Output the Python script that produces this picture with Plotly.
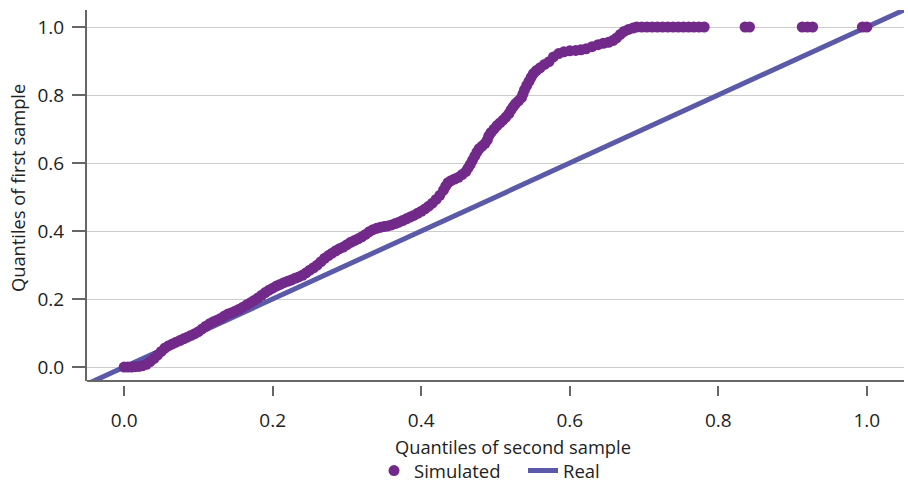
import plotly.graph_objects as go

# Simulated QQ points (quantiles of second sample vs first sample)
sim_x = [0.000, 0.005, 0.010, 0.015, 0.020, 0.025, 0.030, 0.035, 0.040, 0.045,
         0.050, 0.055, 0.060, 0.065, 0.070, 0.075, 0.080, 0.085, 0.090, 0.095,
         0.100, 0.105, 0.110, 0.115, 0.120, 0.125, 0.130, 0.135, 0.140, 0.145,
         0.150, 0.155, 0.160, 0.165, 0.170, 0.175, 0.180, 0.185, 0.190, 0.195,
         0.200, 0.205, 0.210, 0.215, 0.220, 0.225, 0.230, 0.235, 0.240, 0.245,
         0.250, 0.255, 0.260, 0.265, 0.270, 0.275, 0.280, 0.285, 0.290, 0.295,
         0.300, 0.305, 0.310, 0.315, 0.320, 0.325, 0.330, 0.335, 0.340, 0.345,
         0.350, 0.355, 0.360, 0.365, 0.370, 0.375, 0.380, 0.385, 0.390, 0.395,
         0.400, 0.405, 0.410, 0.415, 0.420, 0.425, 0.430, 0.433, 0.436, 0.440,
         0.445, 0.450, 0.455, 0.460, 0.463, 0.466, 0.469, 0.472, 0.475, 0.478,
         0.482, 0.486, 0.489, 0.491, 0.494, 0.498, 0.502, 0.506, 0.510, 0.514,
         0.518, 0.521, 0.524, 0.527, 0.531, 0.535, 0.537, 0.539, 0.542, 0.545,
         0.548, 0.551, 0.555, 0.560, 0.566, 0.572, 0.578, 0.585, 0.592, 0.600,
         0.608, 0.615, 0.622, 0.630, 0.638, 0.645, 0.652, 0.658, 0.663, 0.668,
         0.673, 0.679, 0.685, 0.690, 0.697, 0.704, 0.711, 0.718, 0.725, 0.732,
         0.739, 0.746, 0.753, 0.760, 0.767, 0.774, 0.781, 0.836, 0.842, 0.913,
         0.920, 0.927, 0.994, 1.000]
sim_y = [0.000, 0.000, 0.000, 0.001, 0.002, 0.004, 0.008, 0.016, 0.025, 0.035,
         0.046, 0.056, 0.063, 0.068, 0.073, 0.078, 0.083, 0.088, 0.093, 0.098,
         0.104, 0.112, 0.120, 0.127, 0.133, 0.138, 0.143, 0.150, 0.156, 0.160,
         0.165, 0.170, 0.176, 0.183, 0.189, 0.196, 0.203, 0.211, 0.219, 0.226,
         0.232, 0.238, 0.243, 0.248, 0.252, 0.256, 0.261, 0.265, 0.270, 0.277,
         0.285, 0.292, 0.300, 0.310, 0.320, 0.328, 0.335, 0.342, 0.348, 0.353,
         0.360, 0.367, 0.372, 0.377, 0.383, 0.390, 0.398, 0.404, 0.408, 0.411,
         0.413, 0.415, 0.418, 0.422, 0.426, 0.431, 0.436, 0.441, 0.446, 0.452,
         0.458, 0.465, 0.473, 0.482, 0.493, 0.505, 0.520, 0.532, 0.542, 0.548,
         0.553, 0.558, 0.566, 0.575, 0.585, 0.596, 0.608, 0.620, 0.632, 0.642,
         0.650, 0.658, 0.668, 0.680, 0.690, 0.700, 0.710, 0.718, 0.726, 0.735,
         0.745, 0.756, 0.766, 0.775, 0.783, 0.792, 0.803, 0.815, 0.828, 0.840,
         0.852, 0.863, 0.872, 0.880, 0.890, 0.898, 0.912, 0.922, 0.927, 0.930,
         0.931, 0.933, 0.936, 0.942, 0.948, 0.952, 0.955, 0.960, 0.968, 0.978,
         0.987, 0.993, 0.997, 1.000, 1.000, 1.000, 1.000, 1.000, 1.000, 1.000,
         1.000, 1.000, 1.000, 1.000, 1.000, 1.000, 1.000, 1.000, 1.000, 1.000,
         1.000, 1.000, 1.000, 1.000]

# Reference line (y = x)
real_x = [-0.05, 1.05]
real_y = [-0.05, 1.05]

tick_vals = [0.0, 0.2, 0.4, 0.6, 0.8, 1.0]
tick_text = ["0.0", "0.2", "0.4", "0.6", "0.8", "1.0"]

FONT = "Open Sans"
PURPLE = "#722a8a"
BLUE = "#5a5aa8"
AXIS = "#666666"
TXT = "#222222"

fig = go.Figure()
fig.add_trace(go.Scatter(
    x=real_x, y=real_y, mode="lines", name="Real",
    line=dict(color=BLUE, width=5), legendrank=2))
fig.add_trace(go.Scatter(
    x=sim_x, y=sim_y, mode="markers", name="Simulated",
    marker=dict(color=PURPLE, size=11, line=dict(width=0)), legendrank=1))

W, H = 908, 486
ml, mr, mt, mb = 87, 4, 10, 101
pw = W - ml - mr
ph = H - mt - mb
d = 4 / ph

fig.update_layout(
    width=W, height=H,
    margin=dict(l=ml, r=mr, t=mt, b=mb, autoexpand=False),
    paper_bgcolor="white", plot_bgcolor="white",
    font=dict(family=FONT, size=19, color=TXT),
    showlegend=True,
    legend=dict(orientation="h", x=(374 - ml) / pw, xanchor="left",
                y=(H - mb - 471) / ph, yanchor="middle",
                font=dict(size=18.5, color=TXT), entrywidth=104, entrywidthmode="pixels"),
    xaxis=dict(range=[-0.05, 1.05], anchor="free", position=0, automargin=False,
               showline=False, showgrid=False, zeroline=False,
               ticks="outside", ticklen=10, tickwidth=1.5, tickcolor=AXIS,
               tickvals=tick_vals, ticktext=tick_text, ticklabelstandoff=8,
               tickfont=dict(size=19, color=TXT)),
    yaxis=dict(range=[-0.041, 1.05], domain=[d, 1], automargin=False,
               showline=True, linecolor=AXIS, linewidth=2,
               showgrid=True, gridcolor="#cccccc", gridwidth=1, zeroline=False,
               ticks="outside", ticklen=13, tickwidth=1.5, tickcolor=AXIS,
               tickvals=tick_vals, ticktext=tick_text, ticklabelstandoff=4,
               tickfont=dict(size=19, color=TXT)),
    shapes=[dict(type="line", xref="paper", yref="paper", x0=0, x1=1, y0=d, y1=d,
                 line=dict(color=AXIS, width=2))],
    annotations=[
        dict(text="Quantiles of second sample", xref="paper", yref="paper",
             x=(513 - ml) / pw, y=(H - mb - 446) / ph,
             xanchor="center", yanchor="middle", showarrow=False,
             font=dict(size=18.3, color=TXT)),
        dict(text="Quantiles of first sample", xref="paper", yref="paper",
             x=(17 - ml) / pw, y=(H - mb - 188) / ph, textangle=-90,
             xanchor="center", yanchor="middle", showarrow=False,
             font=dict(size=18.3, color=TXT)),
    ],
)

fig.write_html("out.html", config={"displayModeBar": False},
               post_script="document.body.style.margin='0';document.body.style.overflow='hidden';")
